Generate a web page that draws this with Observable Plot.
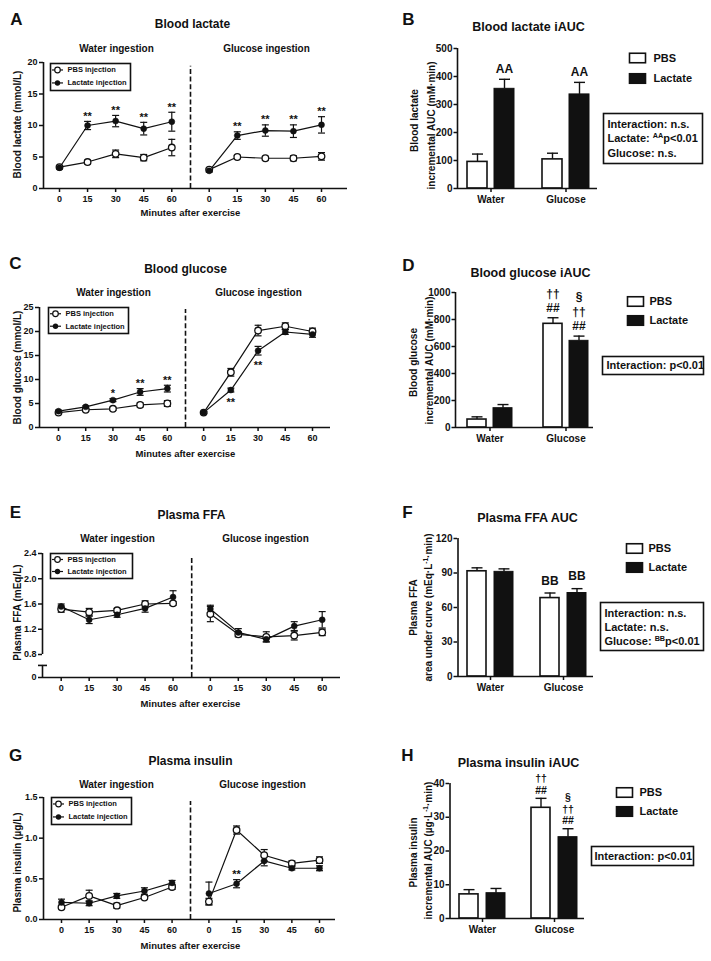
<!DOCTYPE html>
<html><head><meta charset="utf-8">
<script src="https://cdn.jsdelivr.net/npm/d3@7"></script>
<script src="https://cdn.jsdelivr.net/npm/@observablehq/plot@0.6"></script>
<style>
html,body{margin:0;padding:0;background:#fff;}
#fig{position:relative;width:711px;height:961px;background:#fff;overflow:hidden;}
#fig svg{position:absolute;}
</style></head><body><div id="fig"></div>
<script>
const FONT = "'Liberation Sans', Arial, Helvetica, sans-serif";
const INK = "#111";

// ---------- shared categories ----------
const minutes = [0, 15, 30, 45, 60];
const blocks = ["Water ingestion", "Glucose ingestion"];
const barGroups = ["Water", "Glucose"];
const seriesNames = ["PBS injection", "Lactate injection"];
const barNames = ["PBS", "Lactate"];

// ---------- A: Blood lactate (mmol/L) ----------
const A_pbs_water = [3.4, 4.2, 5.5, 4.9, 6.5];
const A_pbs_water_sem = [0.2, 0.3, 0.6, 0.5, 1.3];
const A_lac_water = [3.3, 10.0, 10.7, 9.5, 10.6];
const A_lac_water_sem = [0.2, 0.65, 0.9, 1.0, 1.5];
const A_pbs_glucose = [3.0, 5.0, 4.8, 4.8, 5.1];
const A_pbs_glucose_sem = [0.2, 0.25, 0.3, 0.4, 0.6];
const A_lac_glucose = [2.8, 8.4, 9.2, 9.1, 10.1];
const A_lac_glucose_sem = [0.2, 0.6, 0.9, 1.0, 1.3];
const A_stars_water = ["", "**", "**", "**", "**"];
const A_stars_glucose = ["", "**", "**", "**", "**"];

// ---------- B: Blood lactate iAUC (mM·min) ----------
const B_pbs = [95, 104], B_pbs_sem = [28, 22];
const B_lac = [356, 336], B_lac_sem = [34, 43];
const B_pbs_marks = [[], []], B_lac_marks = [["AA"], ["AA"]];
const B_stats = ["Interaction: n.s.", "Lactate: {AA}p<0.01", "Glucose: n.s."];

// ---------- C: Blood glucose (mmol/L) ----------
const C_pbs_water = [3.1, 3.7, 3.9, 4.7, 5.0];
const C_pbs_water_sem = [0.2, 0.2, 0.3, 0.4, 0.6];
const C_lac_water = [3.4, 4.3, 5.7, 7.4, 8.1];
const C_lac_water_sem = [0.2, 0.2, 0.3, 0.7, 0.7];
const C_pbs_glucose = [3.1, 11.5, 20.2, 21.1, 20.0];
const C_pbs_glucose_sem = [0.2, 0.8, 1.1, 0.7, 0.7];
const C_lac_glucose = [3.1, 7.8, 16.0, 19.9, 19.4];
const C_lac_glucose_sem = [0.2, 0.4, 0.9, 0.5, 0.6];
const C_stars_water = ["", "", "*", "**", "**"];
const C_stars_glucose = ["", "**", "**", "", ""];

// ---------- D: Blood glucose iAUC (mM·min) ----------
const D_pbs = [59, 768], D_pbs_sem = [20, 45];
const D_lac = [143, 642], D_lac_sem = [27, 35];
const D_pbs_marks = [[], ["##", "††"]], D_lac_marks = [[], ["##", "††", "§"]];
const D_stats = ["Interaction: p<0.01"];

// ---------- E: Plasma FFA (mEq/L) ----------
const E_pbs_water = [1.52, 1.47, 1.50, 1.60, 1.61];
const E_pbs_water_sem = [0.05, 0.06, 0.03, 0.05, 0.03];
const E_lac_water = [1.56, 1.35, 1.43, 1.53, 1.71];
const E_lac_water_sem = [0.04, 0.06, 0.04, 0.06, 0.10];
const E_pbs_glucose = [1.44, 1.12, 1.08, 1.10, 1.15];
const E_pbs_glucose_sem = [0.12, 0.04, 0.08, 0.07, 0.05];
const E_lac_glucose = [1.52, 1.15, 1.04, 1.25, 1.35];
const E_lac_glucose_sem = [0.06, 0.06, 0.04, 0.07, 0.13];
const E_stars_water = ["", "", "", "", ""];
const E_stars_glucose = ["", "", "", "", ""];

// ---------- F: Plasma FFA AUC (mEq·L-1·min) ----------
const F_pbs = [91.5, 68.2], F_pbs_sem = [3.0, 4.4];
const F_lac = [91.0, 72.6], F_lac_sem = [2.6, 3.8];
const F_pbs_marks = [[], ["BB"]], F_lac_marks = [[], ["BB"]];
const F_stats = ["Interaction: n.s.", "Lactate: n.s.", "Glucose: {BB}p<0.01"];

// ---------- G: Plasma insulin (µg/L) ----------
const G_pbs_water = [0.15, 0.29, 0.17, 0.27, 0.40];
const G_pbs_water_sem = [0.02, 0.07, 0.03, 0.02, 0.03];
const G_lac_water = [0.21, 0.20, 0.29, 0.35, 0.45];
const G_lac_water_sem = [0.04, 0.03, 0.03, 0.04, 0.03];
const G_pbs_glucose = [0.22, 1.10, 0.79, 0.69, 0.73];
const G_pbs_glucose_sem = [0.04, 0.05, 0.07, 0.03, 0.04];
const G_lac_glucose = [0.32, 0.44, 0.72, 0.63, 0.63];
const G_lac_glucose_sem = [0.14, 0.05, 0.06, 0.02, 0.03];
const G_stars_water = ["", "", "", "", ""];
const G_stars_glucose = ["", "**", "", "", ""];

// ---------- H: Plasma insulin iAUC (µg·L-1·min) ----------
const H_pbs = [7.15, 32.8], H_pbs_sem = [1.4, 2.8];
const H_lac = [7.5, 24.1], H_lac_sem = [1.4, 2.5];
const H_pbs_marks = [[], ["##", "††"]], H_lac_marks = [[], ["##", "††", "§"]];
const H_stats = ["Interaction: p<0.01"];

// ---------- layout helpers ----------
const GLU = 80;      // shift of the glucose-ingestion block on the time axis
const DIVIDER = 70;  // dashed separator between blocks
const fig = document.getElementById("fig");
const hline = (w) => ({draw(ctx) { ctx.moveTo(-w, 0); ctx.lineTo(w, 0); }});

function helpers(W, H, ml, mr, mt, mb) {
  const T = (s, x, y, o = {}) => Plot.text([s], {frameAnchor: "top-left", dx: x - ml, dy: y - mt, text: d => d, lineAnchor: "middle", textAnchor: "middle", fill: INK, ...o});
  const R = (x, y, w, h, o = {}) => Plot.frame({insetLeft: x - ml, insetTop: y - mt, insetRight: (W - mr) - (x + w), insetBottom: (H - mb) - (y + h), ...o});
  const P = (x, y, o = {}) => Plot.dot([0], {frameAnchor: "top-left", dx: x - ml, dy: y - mt, ...o});
  return {T, R, P};
}

function supify(svg) {
  svg.querySelectorAll("text").forEach(t => {
    const s = t.textContent;
    if (!s.includes("{") || t.querySelector("tspan")) return;
    const base = parseFloat(getComputedStyle(t).fontSize) || 10;
    t.textContent = "";
    let raised = false;
    s.split(/(\{[^}]*\})/).forEach(p => {
      if (!p) return;
      const ts = document.createElementNS("http://www.w3.org/2000/svg", "tspan");
      if (p[0] === "{") {
        ts.textContent = p.slice(1, -1);
        ts.setAttribute("font-size", (base * 0.66).toFixed(2));
        ts.setAttribute("dy", (-base * 0.38).toFixed(2));
        raised = true;
      } else {
        ts.textContent = p;
        if (raised) { ts.setAttribute("dy", (base * 0.38).toFixed(2)); raised = false; }
      }
      t.appendChild(ts);
    });
  });
}

function place(svg, left, top) {
  svg.style.left = left + "px";
  svg.style.top = top + "px";
  fig.appendChild(svg);
  supify(svg);
}

const STYLE = {fontFamily: FONT, fontWeight: "bold", color: INK, background: "transparent", overflow: "visible"};

function linePanel(c) {
  const W = c.width, H = c.height;
  const ml = c.axisX, mr = W - c.axisEnd, mt = c.axisTop, mb = H - c.axisY;
  const k = (c.x140 - c.x0) / 140;
  const xmin = (c.axisX - c.x0) / k, xmax = 140 + (c.axisEnd - c.x140) / k;
  // broken-axis mapping (identity unless the panel has a break)
  let f = v => v;
  if (c.yBreak) {
    const b = c.yBreak, g = (c.axisY - c.breakPx) / ((c.breakPx - c.axisTop) / (c.yMax - b));
    f = v => v >= b ? v : b - g + v * (g / b);
  }
  const rows = [];
  c.series.forEach(s => minutes.forEach((t, i) => rows.push({
    treat: s.treat, block: s.block, x: t + (s.block === blocks[1] ? GLU : 0),
    y: f(s.mean[i]), lo: f(s.mean[i] - s.sem[i]), hi: f(s.mean[i] + s.sem[i])
  })));
  const stars = [];
  c.stars.forEach(s => minutes.forEach((t, i) => {
    if (!s.marks[i]) return;
    const r = rows.find(d => d.treat === seriesNames[1] && d.block === s.block && d.x === t + (s.block === blocks[1] ? GLU : 0));
    stars.push({x: r.x, y: s.side === "below" ? r.lo : r.hi, label: s.marks[i], side: s.side});
  }));
  const xTicks = [...minutes, ...minutes.map(t => t + GLU)];
  const yTickPos = c.yTicks.map(f);
  const yLabelOf = new Map(c.yTicks.map(v => [f(v), c.yFormat(v)]));
  const {T, R, P} = helpers(W, H, ml, mr, mt, mb);
  const pbs = rows.filter(d => d.treat === seriesNames[0]);
  const lac = rows.filter(d => d.treat === seriesNames[1]);
  const [lx, ly, lw, lh] = c.legend;
  const r1 = ly + lh * 0.24, r2 = ly + lh * 0.72;
  const svg = Plot.plot({
    width: W, height: H, marginLeft: ml, marginRight: mr, marginTop: mt, marginBottom: mb,
    style: STYLE,
    x: {domain: [xmin, xmax]},
    y: {domain: [f(0), c.yMax], range: [c.axisY, c.axisTop]},
    marks: [
      Plot.ruleX(c.ySegments, {x: () => xmin, y1: d => f(d[0]), y2: d => f(d[1]), stroke: INK, strokeWidth: 1.6}),
      ...(c.yCap != null ? [Plot.dot([c.yCap], {x: () => xmin, y: d => f(d), symbol: hline(4.5), r: 1, fill: "none", stroke: INK, strokeWidth: 1.6})] : []),
      Plot.ruleY([f(0)], {x1: () => xmin, x2: () => xmax, stroke: INK, strokeWidth: 1.6}),
      Plot.axisY({ticks: yTickPos, tickFormat: d => yLabelOf.get(d), tickSize: 4, tickPadding: 2, fontSize: 9, stroke: INK, strokeWidth: 1.5, label: null}),
      Plot.axisX({ticks: xTicks, tickFormat: d => d >= GLU ? d - GLU : d, tickSize: 4, tickPadding: 3, fontSize: 9, stroke: INK, strokeWidth: 1.5, label: null}),
      Plot.ruleX([DIVIDER], {y1: () => f(0), y2: () => c.dashTop, stroke: INK, strokeWidth: 1.6, strokeDasharray: "5,2.6"}),
      Plot.line(rows, {x: "x", y: "y", z: d => d.treat + d.block, stroke: INK, strokeWidth: 1.2}),
      Plot.ruleX(rows, {x: "x", y1: "lo", y2: "hi", stroke: INK, strokeWidth: 1.2}),
      Plot.dot(rows, {x: "x", y: "hi", symbol: hline(3.5), r: 1, fill: "none", stroke: INK, strokeWidth: 1.2}),
      Plot.dot(rows, {x: "x", y: "lo", symbol: hline(3.5), r: 1, fill: "none", stroke: INK, strokeWidth: 1.2}),
      Plot.dot(pbs, {x: "x", y: "y", r: 3.3, fill: "white", stroke: INK, strokeWidth: 1.3}),
      Plot.dot(lac, {x: "x", y: "y", r: 3, fill: INK, stroke: INK, strokeWidth: 0.5}),
      Plot.text(stars.filter(d => d.side === "above"), {x: "x", y: "y", text: "label", dy: -5, fontSize: 11, fill: INK}),
      Plot.text(stars.filter(d => d.side === "below"), {x: "x", y: "y", text: "label", dy: 10, fontSize: 11, fill: INK}),
      // legend
      R(lx, ly, lw, lh, {fill: "white", stroke: INK, strokeWidth: 1.6}),
      P(lx + 7, r1, {symbol: hline(5.5), r: 1, fill: "none", stroke: INK, strokeWidth: 1.2}),
      P(lx + 7, r1, {r: 2.8, fill: "white", stroke: INK, strokeWidth: 1.2}),
      P(lx + 7, r2, {symbol: hline(5.5), r: 1, fill: "none", stroke: INK, strokeWidth: 1.2}),
      P(lx + 7, r2, {r: 2.7, fill: INK}),
      T(seriesNames[0], lx + 17, r1, {textAnchor: "start", fontSize: 7.5}),
      T(seriesNames[1], lx + 17, r2, {textAnchor: "start", fontSize: 7.5}),
      // texts
      T(c.letter[0], c.letter[1], c.letter[2], {fontSize: 17}),
      T(c.title[0], c.title[1], c.title[2], {fontSize: 12}),
      T(blocks[0], c.sub[0], c.sub[2], {fontSize: 10}),
      T(blocks[1], c.sub[1], c.sub[2], {fontSize: 10}),
      T(c.ylab[0], c.ylab[1], c.ylab[2], {fontSize: 10, rotate: -90}),
      T("Minutes after exercise", c.xlab[0], c.xlab[1], {fontSize: 9.5})
    ]
  });
  place(svg, c.left, c.top);
}

function barPanel(c) {
  const W = c.width, H = c.height;
  const ml = c.axisX, mr = W - c.axisEnd, mt = c.axisTop, mb = H - c.axisY;
  const [cw, cg] = c.centers;
  const step = cg - cw, bw = 2 * c.barW + c.gap, pin = 1 - bw / step;
  const off = (c.barW + c.gap) / 2;
  const mk = (m, e, marks) => barGroups.map((g, i) => ({g, m: m[i], e: e[i], top: m[i] + e[i], marks: marks[i]}));
  const pbs = mk(c.pbs, c.pbsSem, c.pbsMarks);
  const lac = mk(c.lac, c.lacSem, c.lacMarks);
  const {T, R, P} = helpers(W, H, ml, mr, mt, mb);
  const annMarks = [];
  [[pbs, -off], [lac, off]].forEach(([rows, dx]) => {
    for (let j = 0; j < 3; j++) {
      const lv = rows.filter(d => d.marks[j]).map(d => ({...d, label: d.marks[j]}));
      if (lv.length) annMarks.push(Plot.text(lv, {x: "g", y: "top", text: "label", dx, dy: c.annDy - j * c.annStep, fontSize: c.annSize, fill: INK}));
    }
  });
  const lg = c.legend;
  const svg = Plot.plot({
    width: W, height: H, marginLeft: ml, marginRight: mr, marginTop: mt, marginBottom: mb,
    style: STYLE,
    x: {type: "band", domain: barGroups, range: [cw - step / 2, cg + step / 2], paddingInner: pin, paddingOuter: pin / 2, align: 0.5},
    y: {domain: [0, c.yMax], range: [c.axisY, c.axisTop]},
    marks: [
      Plot.ruleX(pbs, {x: "g", y1: "m", y2: "top", dx: -off, stroke: INK, strokeWidth: 1.4}),
      Plot.dot(pbs, {x: "g", y: "top", dx: -off, symbol: hline(5.5), r: 1, fill: "none", stroke: INK, strokeWidth: 1.4}),
      Plot.ruleX(lac, {x: "g", y1: "m", y2: "top", dx: off, stroke: INK, strokeWidth: 1.4}),
      Plot.dot(lac, {x: "g", y: "top", dx: off, symbol: hline(5.5), r: 1, fill: "none", stroke: INK, strokeWidth: 1.4}),
      Plot.barY(pbs, {x: "g", y: "m", fill: "white", stroke: INK, strokeWidth: 1.6, insetRight: c.barW + c.gap}),
      Plot.barY(lac, {x: "g", y: "m", fill: INK, stroke: INK, strokeWidth: 1, insetLeft: c.barW + c.gap}),
      Plot.ruleX([0], {x: () => barGroups[0], dx: -(cw - c.axisX), y1: () => 0, y2: () => c.yMax, stroke: INK, strokeWidth: 1.6}),
      Plot.ruleY([0], {stroke: INK, strokeWidth: 1.6}),
      Plot.axisY({ticks: c.yTicks, tickFormat: d => String(d), tickSize: 3.5, tickPadding: 1.5, fontSize: 10, stroke: INK, strokeWidth: 1.5, label: null}),
      Plot.axisX({tickSize: 4, tickPadding: 3, fontSize: 10, stroke: INK, strokeWidth: 1.5, label: null}),
      ...annMarks,
      // legend
      R(lg.x, lg.y[0] - lg.h / 2, lg.w, lg.h, {fill: "white", stroke: INK, strokeWidth: 1.6}),
      R(lg.x, lg.y[1] - lg.h / 2, lg.w, lg.h, {fill: INK, stroke: INK, strokeWidth: 1.6}),
      T(barNames[0], lg.tx, lg.y[0], {textAnchor: "start", fontSize: 11}),
      T(barNames[1], lg.tx, lg.y[1], {textAnchor: "start", fontSize: 11}),
      // stats box
      R(c.box.x, c.box.y, c.box.w, c.box.h, {fill: "white", stroke: INK, strokeWidth: 1.6}),
      ...c.stats.map((s, i) => T(s, c.box.tx, c.box.ys[i], {textAnchor: "start", fontSize: 11})),
      // texts
      T(c.letter[0], c.letter[1], c.letter[2], {fontSize: 17}),
      T(c.title[0], c.title[1], c.title[2], {fontSize: 12.5}),
      T(c.ylab1[0], c.ylab1[1], c.ylab1[2], {fontSize: 10, rotate: -90}),
      T(c.ylab2[0], c.ylab2[1], c.ylab2[2], {fontSize: 10, rotate: -90})
    ]
  });
  place(svg, c.left, c.top);
}

const S = (treat, block, mean, sem) => ({treat, block, mean, sem});

// ---------- panels ----------
linePanel({
  left: 0, top: 0, width: 360, height: 220,
  axisX: 43, axisY: 188, axisTop: 62, axisEnd: 347, x0: 59, x140: 321,
  yMax: 20, yTicks: [0, 5, 10, 15, 20], yFormat: d => String(d), ySegments: [[0, 20]], dashTop: 19.4,
  series: [S(seriesNames[0], blocks[0], A_pbs_water, A_pbs_water_sem), S(seriesNames[1], blocks[0], A_lac_water, A_lac_water_sem),
           S(seriesNames[0], blocks[1], A_pbs_glucose, A_pbs_glucose_sem), S(seriesNames[1], blocks[1], A_lac_glucose, A_lac_glucose_sem)],
  stars: [{block: blocks[0], marks: A_stars_water, side: "above"}, {block: blocks[1], marks: A_stars_glucose, side: "above"}],
  letter: ["A", 16, 19], title: ["Blood lactate", 192, 24], sub: [116, 266, 48],
  ylab: ["Blood lactate (mmol/L)", 17, 124], xlab: [190, 212], legend: [50, 63, 80, 27]
});

linePanel({
  left: 0, top: 220, width: 360, height: 240,
  axisX: 39, axisY: 207, axisTop: 87, axisEnd: 330, x0: 58, x140: 312,
  yMax: 25, yTicks: [0, 5, 10, 15, 20, 25], yFormat: d => String(d), ySegments: [[0, 25]], dashTop: 24.6,
  series: [S(seriesNames[0], blocks[0], C_pbs_water, C_pbs_water_sem), S(seriesNames[1], blocks[0], C_lac_water, C_lac_water_sem),
           S(seriesNames[0], blocks[1], C_pbs_glucose, C_pbs_glucose_sem), S(seriesNames[1], blocks[1], C_lac_glucose, C_lac_glucose_sem)],
  stars: [{block: blocks[0], marks: C_stars_water, side: "above"}, {block: blocks[1], marks: C_stars_glucose, side: "below"}],
  letter: ["C", 15, 43], title: ["Blood glucose", 185, 49], sub: [113, 258, 72],
  ylab: ["Blood glucose (mmol/L)", 17, 147], xlab: [185, 233], legend: [48, 87, 80, 26]
});

linePanel({
  left: 0, top: 460, width: 360, height: 250,
  axisX: 42, axisY: 217, axisTop: 93, axisEnd: 340, x0: 60.7, x140: 321.7,
  yMax: 2.4, yBreak: 0.8, breakPx: 194, yTicks: [0, 0.8, 1.2, 1.6, 2.0, 2.4], yFormat: d => d === 0 ? "0" : d.toFixed(1),
  ySegments: [[0, 0.42], [0.8, 2.4]], yCap: 0.42, dashTop: 2.35,
  series: [S(seriesNames[0], blocks[0], E_pbs_water, E_pbs_water_sem), S(seriesNames[1], blocks[0], E_lac_water, E_lac_water_sem),
           S(seriesNames[0], blocks[1], E_pbs_glucose, E_pbs_glucose_sem), S(seriesNames[1], blocks[1], E_lac_glucose, E_lac_glucose_sem)],
  stars: [{block: blocks[0], marks: E_stars_water, side: "above"}, {block: blocks[1], marks: E_stars_glucose, side: "above"}],
  letter: ["E", 15, 52], title: ["Plasma FFA", 191, 55], sub: [117, 265, 78],
  ylab: ["Plasma FFA (mEq/L)", 17, 152], xlab: [190, 243], legend: [50, 93, 82, 25]
});

linePanel({
  left: 0, top: 710, width: 360, height: 251,
  axisX: 43, axisY: 209, axisTop: 87, axisEnd: 335, x0: 61, x140: 319,
  yMax: 1.5, yTicks: [0, 0.5, 1.0, 1.5], yFormat: d => d.toFixed(1), ySegments: [[0, 1.5]], dashTop: 1.45,
  series: [S(seriesNames[0], blocks[0], G_pbs_water, G_pbs_water_sem), S(seriesNames[1], blocks[0], G_lac_water, G_lac_water_sem),
           S(seriesNames[0], blocks[1], G_pbs_glucose, G_pbs_glucose_sem), S(seriesNames[1], blocks[1], G_lac_glucose, G_lac_glucose_sem)],
  stars: [{block: blocks[0], marks: G_stars_water, side: "above"}, {block: blocks[1], marks: G_stars_glucose, side: "above"}],
  letter: ["G", 15, 45], title: ["Plasma insulin", 190, 51], sub: [116, 262, 74],
  ylab: ["Plasma insulin (µg/L)", 17, 152], xlab: [190, 235], legend: [51, 87, 80, 27]
});

barPanel({
  left: 360, top: 0, width: 351, height: 220,
  axisX: 97, axisY: 188, axisTop: 48, axisEnd: 237, centers: [130.5, 205.5], barW: 20, gap: 7,
  yMax: 500, yTicks: [0, 100, 200, 300, 400, 500],
  pbs: B_pbs, pbsSem: B_pbs_sem, lac: B_lac, lacSem: B_lac_sem, pbsMarks: B_pbs_marks, lacMarks: B_lac_marks,
  annDy: -10.5, annStep: 14, annSize: 12,
  legend: {x: 269, w: 16, h: 9.5, y: [57.5, 78], tx: 293},
  box: {x: 243, y: 113, w: 99, h: 50, tx: 247, ys: [123.5, 138, 152.5]}, stats: B_stats,
  letter: ["B", 48, 19], title: ["Blood lactate iAUC", 168, 26],
  ylab1: ["Blood lactate", 54, 120], ylab2: ["incremental AUC (mM·min)", 71, 125]
});

barPanel({
  left: 360, top: 220, width: 351, height: 240,
  axisX: 95, axisY: 207, axisTop: 72, axisEnd: 233, centers: [129.5, 205.5], barW: 19, gap: 7,
  yMax: 1000, yTicks: [0, 200, 400, 600, 800, 1000],
  pbs: D_pbs, pbsSem: D_pbs_sem, lac: D_lac, lacSem: D_lac_sem, pbsMarks: D_pbs_marks, lacMarks: D_lac_marks,
  annDy: -9.5, annStep: 14.5, annSize: 12,
  legend: {x: 267, w: 16, h: 9.5, y: [81, 100], tx: 289},
  box: {x: 242, y: 136, w: 101, h: 18, tx: 246, ys: [145]}, stats: D_stats,
  letter: ["D", 48, 45], title: ["Blood glucose iAUC", 170, 52],
  ylab1: ["Blood glucose", 53, 142], ylab2: ["incremental AUC (mM·min)", 69, 140]
});

barPanel({
  left: 360, top: 460, width: 351, height: 250,
  axisX: 97, axisY: 216, axisTop: 78, axisEnd: 233, centers: [129.5, 202.5], barW: 19, gap: 8,
  yMax: 120, yTicks: [0, 30, 60, 90, 120],
  pbs: F_pbs, pbsSem: F_pbs_sem, lac: F_lac, lacSem: F_lac_sem, pbsMarks: F_pbs_marks, lacMarks: F_lac_marks,
  annDy: -12, annStep: 14, annSize: 12,
  legend: {x: 266, w: 16, h: 9.5, y: [88, 107], tx: 288},
  box: {x: 240, y: 142, w: 103, h: 48, tx: 244, ys: [153, 167, 181]}, stats: F_stats,
  letter: ["F", 47, 52], title: ["Plasma FFA AUC", 167, 57],
  ylab1: ["Plasma FFA", 53, 147], ylab2: ["area under curve (mEq·L{-1}·min)", 68, 147]
});

barPanel({
  left: 360, top: 710, width: 351, height: 251,
  axisX: 89, axisY: 208, axisTop: 73, axisEnd: 224, centers: [121.5, 194], barW: 19, gap: 8,
  yMax: 40, yTicks: [0, 10, 20, 30, 40],
  pbs: H_pbs, pbsSem: H_pbs_sem, lac: H_lac, lacSem: H_lac_sem, pbsMarks: H_pbs_marks, lacMarks: H_lac_marks,
  annDy: -8, annStep: 11.5, annSize: 10.5,
  legend: {x: 256, w: 16, h: 9.5, y: [82, 101], tx: 279},
  box: {x: 231, y: 136, w: 102, h: 19, tx: 234, ys: [145.5]}, stats: H_stats,
  letter: ["H", 47, 45], title: ["Plasma insulin iAUC", 158, 52],
  ylab1: ["Plasma insulin", 53, 142], ylab2: ["incremental AUC (µg·L{-1}·min)", 68, 140]
});
</script>
</body></html>
